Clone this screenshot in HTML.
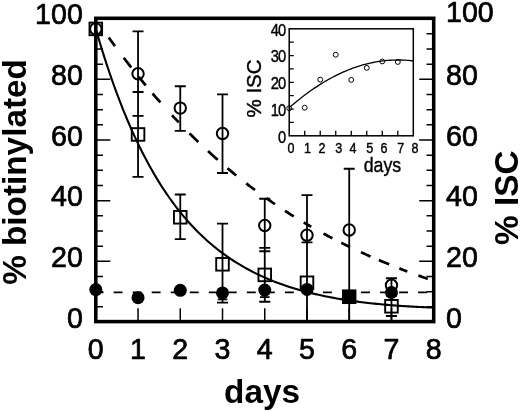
<!DOCTYPE html>
<html lang="en">
<head>
<meta charset="utf-8">
<title>% biotinylated vs days</title>
<style>html,body{margin:0;padding:0;background:#fff}svg{display:block}</style>
</head>
<body>
<svg width="520" height="412" viewBox="0 0 520 412">
<rect x="0" y="0" width="520" height="412" fill="#fff"/>
<g stroke="#000" stroke-width="1.5" fill="none">
<path d="M95.8 306.83h7.2 M433.7 306.83h-7.2"/>
<path d="M95.8 291.67h7.2 M433.7 291.67h-7.2"/>
<path d="M95.8 276.5h7.2 M433.7 276.5h-7.2"/>
<path d="M95.8 261.34h14.5 M433.7 261.34h-14.5"/>
<path d="M95.8 246.18h7.2 M433.7 246.18h-7.2"/>
<path d="M95.8 231.01h7.2 M433.7 231.01h-7.2"/>
<path d="M95.8 215.85h7.2 M433.7 215.85h-7.2"/>
<path d="M95.8 200.68h14.5 M433.7 200.68h-14.5"/>
<path d="M95.8 185.52h7.2 M433.7 185.52h-7.2"/>
<path d="M95.8 170.35h7.2 M433.7 170.35h-7.2"/>
<path d="M95.8 155.19h7.2 M433.7 155.19h-7.2"/>
<path d="M95.8 140.02h14.5 M433.7 140.02h-14.5"/>
<path d="M95.8 124.86h7.2 M433.7 124.86h-7.2"/>
<path d="M95.8 109.69h7.2 M433.7 109.69h-7.2"/>
<path d="M95.8 94.53h7.2 M433.7 94.53h-7.2"/>
<path d="M95.8 79.36h14.5 M433.7 79.36h-14.5"/>
<path d="M95.8 64.2h7.2 M433.7 64.2h-7.2"/>
<path d="M95.8 49.03h7.2 M433.7 49.03h-7.2"/>
<path d="M95.8 33.87h7.2 M433.7 33.87h-7.2"/>
<path d="M138.04 321.6v-13.3"/>
<path d="M180.27 321.6v-13.3"/>
<path d="M222.51 321.6v-13.3"/>
<path d="M264.75 321.6v-13.3"/>
<path d="M306.99 321.6v-13.3"/>
<path d="M349.22 321.6v-13.3"/>
<path d="M391.46 321.6v-13.3"/>
</g>
<path fill="none" stroke="#000" stroke-width="2.1" d="M95.8 28.92 L97.91 36.16 L100.02 43.23 L102.14 50.11 L104.25 56.82 L106.36 63.36 L108.47 69.73 L110.58 75.94 L112.69 81.99 L114.81 87.89 L116.92 93.64 L119.03 99.24 L121.14 104.7 L123.25 110.02 L125.37 115.21 L127.48 120.26 L129.59 125.19 L131.7 129.99 L133.81 134.67 L135.93 139.23 L138.04 143.67 L140.15 148 L142.26 152.22 L144.37 156.33 L146.48 160.34 L148.6 164.25 L150.71 168.05 L152.82 171.76 L154.93 175.38 L157.04 178.9 L159.16 182.34 L161.27 185.69 L163.38 188.95 L165.49 192.13 L167.6 195.23 L169.72 198.24 L171.83 201.19 L173.94 204.05 L176.05 206.85 L178.16 209.57 L180.27 212.23 L182.39 214.81 L184.5 217.33 L186.61 219.79 L188.72 222.19 L190.83 224.52 L192.95 226.79 L195.06 229.01 L197.17 231.17 L199.28 233.27 L201.39 235.32 L203.51 237.32 L205.62 239.27 L207.73 241.17 L209.84 243.02 L211.95 244.82 L214.06 246.58 L216.18 248.29 L218.29 249.96 L220.4 251.58 L222.51 253.17 L224.62 254.71 L226.74 256.21 L228.85 257.68 L230.96 259.11 L233.07 260.5 L235.18 261.86 L237.3 263.18 L239.41 264.46 L241.52 265.72 L243.63 266.94 L245.74 268.13 L247.86 269.29 L249.97 270.42 L252.08 271.53 L254.19 272.6 L256.3 273.65 L258.41 274.66 L260.53 275.66 L262.64 276.62 L264.75 277.57 L266.86 278.48 L268.97 279.38 L271.09 280.25 L273.2 281.1 L275.31 281.92 L277.42 282.73 L279.53 283.51 L281.64 284.28 L283.76 285.02 L285.87 285.75 L287.98 286.45 L290.09 287.14 L292.2 287.81 L294.32 288.46 L296.43 289.1 L298.54 289.71 L300.65 290.32 L302.76 290.9 L304.88 291.47 L306.99 292.03 L309.1 292.57 L311.21 293.1 L313.32 293.61 L315.44 294.11 L317.55 294.59 L319.66 295.06 L321.77 295.52 L323.88 295.97 L325.99 296.41 L328.11 296.83 L330.22 297.24 L332.33 297.64 L334.44 298.03 L336.55 298.41 L338.67 298.78 L340.78 299.13 L342.89 299.48 L345 299.82 L347.11 300.15 L349.22 300.47 L351.34 300.78 L353.45 301.08 L355.56 301.37 L357.67 301.66 L359.78 301.93 L361.9 302.2 L364.01 302.46 L366.12 302.71 L368.23 302.96 L370.34 303.2 L372.46 303.43 L374.57 303.65 L376.68 303.87 L378.79 304.08 L380.9 304.28 L383.01 304.48 L385.13 304.67 L387.24 304.85 L389.35 305.03 L391.46 305.2 L393.57 305.37 L395.69 305.53 L397.8 305.68 L399.91 305.83 L402.02 305.98 L404.13 306.11 L406.25 306.25 L408.36 306.38 L410.47 306.5 L412.58 306.62 L414.69 306.73 L416.8 306.84 L418.92 306.95 L421.03 307.05 L423.14 307.15 L425.25 307.24 L427.36 307.33 L429.48 307.41 L431.59 307.49 L433.7 307.57"/>
<path fill="none" stroke="#000" stroke-width="2.7" d="M108.75 37.52 L110.31 39.69 L111.88 41.84 L113.44 43.99 L115 46.11M123.75 57.79 L125.62 60.24 L127.5 62.67 L129.38 65.09 L131.25 67.48M138.75 76.88 L140.51 79.05 L142.28 81.2 L144.04 83.34 L145.8 85.46M152.6 93.5 L154.55 95.77 L156.5 98.02 L158.45 100.25 L160.4 102.46M172 115.24 L173.7 117.06 L175.4 118.87 L177.1 120.66 L178.8 122.44M189.5 133.36 L191.7 135.55 L193.9 137.71 L196.1 139.85 L198.3 141.97M208 151.09 L210.43 153.3 L212.85 155.5 L215.27 157.67 L217.7 159.82M227.5 168.26 L229.69 170.09 L231.88 171.91 L234.06 173.71 L236.25 175.49M246.25 183.4 L248.44 185.09 L250.62 186.75 L252.81 188.4 L255 190.04M266.25 198.18 L268.44 199.72 L270.62 201.23 L272.81 202.74 L275 204.23M285 210.84 L287.19 212.25 L289.38 213.64 L291.56 215.02 L293.75 216.38M303.75 222.44 L305.62 223.54 L307.5 224.64 L309.38 225.73 L311.25 226.8M323.5 233.61 L325.73 234.8 L327.95 235.98 L330.17 237.15 L332.4 238.31M341.3 242.83 L343.48 243.91 L345.65 244.98 L347.82 246.03 L350 247.08M361 252.21 L363.38 253.29 L365.75 254.36 L368.12 255.41 L370.5 256.46M378.9 260.07 L381.47 261.15 L384.05 262.22 L386.62 263.28 L389.2 264.33M399.4 268.38 L401.38 269.15 L403.35 269.91 L405.32 270.67 L407.3 271.42M418.4 275.54 L420.75 276.39 L423.1 277.24 L425.45 278.08 L427.8 278.91"/>
<path fill="none" stroke="#000" stroke-width="1.6" d="M94.62 292.4h8.9M113.65 292.4h8.9M132.68 292.4h8.9M151.71 292.4h8.9M170.74 292.4h8.9M189.77 292.4h8.9M208.8 292.4h8.9M227.83 292.4h8.9M246.86 292.4h8.9M265.89 292.4h8.9M284.92 292.4h8.9M303.95 292.4h8.9M322.98 292.4h8.9M342.01 292.4h8.9M361.04 292.4h8.9M380.07 292.4h8.9M399.1 292.4h8.9M418.13 292.4h8.9"/>
<path fill="none" stroke="#000" stroke-width="1.8" d="M138.04 31.34V115.96M132.54 31.34h11M132.54 115.96h11M180.27 86.24V130.82M174.77 86.24h11M174.77 130.82h11M222.51 94.43V172.98M217.01 94.43h11M217.01 172.98h11M264.75 198.76V251.23M259.25 198.76h11M259.25 251.23h11M306.99 195.12V275.2M301.49 195.12h11M349.22 168.74V291.27M343.72 168.74h11M391.46 278.23V291.88M385.96 278.23h11M138.04 92V176.93M132.54 92h11M132.54 176.93h11M180.27 194.52V239.1M174.77 194.52h11M174.77 239.1h11M222.51 223.63V302.64M217.01 223.63h11M217.01 302.64h11M264.75 247.9V301.73M259.25 247.9h11M259.25 301.73h11M306.99 242.44V321.6M301.49 242.44h11M349.22 260.94V321.6M391.46 295.82V315.99M385.96 295.82h11M385.96 315.99h11M391.46 315.99V321.6M222.51 284.9V299.46M217.71 299.46h9.6M264.75 282.47V297.03M259.95 297.03h9.6"/>
<g fill="none" stroke="#000" stroke-width="2">
<circle cx="95.8" cy="28.92" r="5.7"/>
<circle cx="138.04" cy="73.8" r="5.7"/>
<circle cx="180.27" cy="108.08" r="5.7"/>
<circle cx="222.51" cy="133.55" r="5.7"/>
<circle cx="264.75" cy="225.45" r="5.7"/>
<circle cx="306.99" cy="235.16" r="5.7"/>
<circle cx="349.22" cy="230" r="5.7"/>
<circle cx="391.46" cy="285.2" r="5.7"/>
</g>
<g fill="none" stroke="#000" stroke-width="1.9">
<rect x="89.5" y="22.62" width="12.6" height="12.6"/>
<rect x="131.74" y="128.16" width="12.6" height="12.6"/>
<rect x="173.97" y="210.96" width="12.6" height="12.6"/>
<rect x="216.21" y="257.98" width="12.6" height="12.6"/>
<rect x="258.45" y="268.59" width="12.6" height="12.6"/>
<rect x="300.69" y="276.48" width="12.6" height="12.6"/>
<rect x="385.16" y="299.98" width="12.6" height="12.6"/>
</g>
<g fill="#000">
<circle cx="95.8" cy="289.6" r="6.5"/>
<circle cx="138.04" cy="297.64" r="6.5"/>
<circle cx="180.27" cy="290.36" r="6.5"/>
<circle cx="222.51" cy="292.94" r="6.5"/>
<circle cx="264.75" cy="290.06" r="6.5"/>
<circle cx="306.99" cy="289.45" r="6.5"/>
<circle cx="391.46" cy="292.48" r="6.5"/>
<rect x="342.02" y="289.43" width="14.4" height="14.6"/>
</g>
<rect x="95.8" y="18.3" width="337.9" height="303.3" fill="none" stroke="#000" stroke-width="3.55"/>
<g font-family="'Liberation Sans', Arial, Helvetica, sans-serif" font-size="28.6" fill="#000" stroke="#000" stroke-width="0.7" stroke-linejoin="round">
<text x="82.8" y="328" text-anchor="end">0</text>
<text x="446" y="327.5">0</text>
<text x="82.8" y="266.84" text-anchor="end">20</text>
<text x="446" y="266.84">20</text>
<text x="82.8" y="206.18" text-anchor="end">40</text>
<text x="446" y="206.18">40</text>
<text x="82.8" y="145.52" text-anchor="end">60</text>
<text x="446" y="145.52">60</text>
<text x="82.8" y="84.86" text-anchor="end">80</text>
<text x="446" y="84.86">80</text>
<text x="82.8" y="23.5" text-anchor="end">100</text>
<text x="446" y="22.1">100</text>
<text x="95.8" y="358.8" text-anchor="middle">0</text>
<text x="138.04" y="358.8" text-anchor="middle">1</text>
<text x="180.27" y="358.8" text-anchor="middle">2</text>
<text x="222.51" y="358.8" text-anchor="middle">3</text>
<text x="264.75" y="358.8" text-anchor="middle">4</text>
<text x="306.99" y="358.8" text-anchor="middle">5</text>
<text x="349.22" y="358.8" text-anchor="middle">6</text>
<text x="391.46" y="358.8" text-anchor="middle">7</text>
<text x="433.7" y="358.8" text-anchor="middle">8</text>
</g>
<g font-family="'Liberation Sans', Arial, Helvetica, sans-serif" font-size="33.3" font-weight="bold" fill="#000">
<text x="262" y="403.3" text-anchor="middle">days</text>
<text transform="translate(25.8 172) rotate(-90)" text-anchor="middle">% biotinylated</text>
<text transform="translate(518.3 197.7) rotate(-90)" text-anchor="middle">% ISC</text>
</g>
<rect x="289.2" y="28.8" width="124.1" height="107" fill="#fff" stroke="#000" stroke-width="1.5"/>
<path fill="none" stroke="#000" stroke-width="1.3" d="M289.2 122.43h4.5M289.2 109.05h4.5M289.2 95.68h4.5M289.2 82.3h4.5M289.2 68.92h4.5M289.2 55.55h4.5M289.2 42.17h4.5M304.71 135.8v-5M320.23 135.8v-5M335.74 135.8v-5M351.25 135.8v-5M366.76 135.8v-5M382.27 135.8v-5M397.79 135.8v-5"/>
<path fill="none" stroke="#000" stroke-width="1.3" d="M289.2 107.71 L290.75 106.36 L292.3 105.03 L293.85 103.72 L295.4 102.42 L296.96 101.15 L298.51 99.89 L300.06 98.66 L301.61 97.44 L303.16 96.24 L304.71 95.07 L306.26 93.91 L307.81 92.77 L309.37 91.65 L310.92 90.55 L312.47 89.47 L314.02 88.41 L315.57 87.37 L317.12 86.35 L318.67 85.35 L320.23 84.37 L321.78 83.4 L323.33 82.46 L324.88 81.53 L326.43 80.63 L327.98 79.74 L329.53 78.88 L331.08 78.03 L332.63 77.2 L334.19 76.39 L335.74 75.6 L337.29 74.84 L338.84 74.09 L340.39 73.35 L341.94 72.64 L343.49 71.95 L345.05 71.28 L346.6 70.63 L348.15 69.99 L349.7 69.38 L351.25 68.79 L352.8 68.21 L354.35 67.66 L355.9 67.12 L357.46 66.6 L359.01 66.1 L360.56 65.63 L362.11 65.17 L363.66 64.73 L365.21 64.31 L366.76 63.91 L368.31 63.53 L369.87 63.17 L371.42 62.83 L372.97 62.5 L374.52 62.2 L376.07 61.92 L377.62 61.65 L379.17 61.41 L380.72 61.18 L382.27 60.97 L383.83 60.79 L385.38 60.62 L386.93 60.47 L388.48 60.34 L390.03 60.24 L391.58 60.15 L393.13 60.08 L394.69 60.03 L396.24 59.99 L397.79 59.98 L399.34 59.99 L400.89 60.02 L402.44 60.06 L403.99 60.13 L405.54 60.21 L407.1 60.32 L408.65 60.44 L410.2 60.59 L411.75 60.75 L413.3 60.93"/>
<g fill="none" stroke="#000" stroke-width="1">
<circle cx="289.2" cy="108.25" r="2.45"/>
<circle cx="304.71" cy="107.71" r="2.45"/>
<circle cx="320.23" cy="79.62" r="2.45"/>
<circle cx="335.74" cy="54.75" r="2.45"/>
<circle cx="351.25" cy="79.89" r="2.45"/>
<circle cx="366.76" cy="67.86" r="2.45"/>
<circle cx="382.27" cy="61.44" r="2.45"/>
<circle cx="397.79" cy="61.97" r="2.45"/>
</g>
<g font-family="'Liberation Sans', Arial, Helvetica, sans-serif" font-size="16.5" fill="#000" stroke="#000" stroke-width="0.4">
<text transform="translate(285.2 142.5) scale(0.89 1)" letter-spacing="-1.1" text-anchor="end">0</text>
<text transform="translate(285.2 115.75) scale(0.89 1)" letter-spacing="-1.1" text-anchor="end">10</text>
<text transform="translate(285.2 89) scale(0.89 1)" letter-spacing="-1.1" text-anchor="end">20</text>
<text transform="translate(285.2 62.25) scale(0.89 1)" letter-spacing="-1.1" text-anchor="end">30</text>
<text transform="translate(285.2 35.5) scale(0.89 1)" letter-spacing="-1.1" text-anchor="end">40</text>
<text transform="translate(290.9 153.1) scale(0.86 1)" font-size="14.6" text-anchor="middle">0</text>
<text transform="translate(307.61 153.1) scale(0.86 1)" font-size="14.6" text-anchor="middle">1</text>
<text transform="translate(321.93 153.1) scale(0.86 1)" font-size="14.6" text-anchor="middle">2</text>
<text transform="translate(338.64 153.1) scale(0.86 1)" font-size="14.6" text-anchor="middle">3</text>
<text transform="translate(352.95 153.1) scale(0.86 1)" font-size="14.6" text-anchor="middle">4</text>
<text transform="translate(369.66 153.1) scale(0.86 1)" font-size="14.6" text-anchor="middle">5</text>
<text transform="translate(383.97 153.1) scale(0.86 1)" font-size="14.6" text-anchor="middle">6</text>
<text transform="translate(400.69 153.1) scale(0.86 1)" font-size="14.6" text-anchor="middle">7</text>
<text transform="translate(415 153.1) scale(0.86 1)" font-size="14.6" text-anchor="middle">8</text>
</g>
<g font-family="'Liberation Sans', Arial, Helvetica, sans-serif" font-size="20.5" fill="#000" stroke="#000" stroke-width="0.4">
<text x="382.4" y="172.0" text-anchor="middle" textLength="37.5" lengthAdjust="spacingAndGlyphs">days</text>
<text transform="translate(261.4 88.5) rotate(-90)" text-anchor="middle">% ISC</text>
</g>
</svg>
</body>
</html>
